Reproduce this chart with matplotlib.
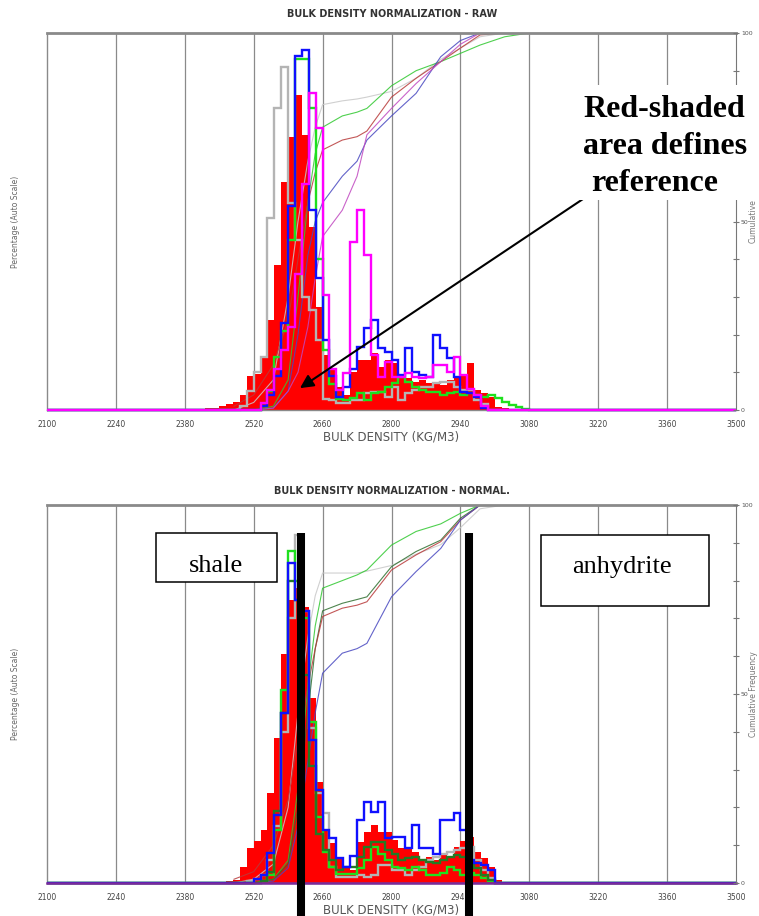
# bulk density normalization - raw vs normalized histograms
import numpy as np
import matplotlib.pyplot as plt
from matplotlib.patches import Rectangle
from matplotlib.transforms import blended_transform_factory

# histogram bins are 14 kg/m3 wide, every list below starts at 2380
BIN_W = 14
FIRST_BIN = 2380
X_MIN, X_MAX = 2100, 3500
x_ticks = np.arange(2100, 3501, 140)

# ---- RAW (top) ----
red_raw = [0, 0, 0, 0.5, 0.5, 1, 1.5, 2, 4, 9,
           9.5, 14, 24, 38.5, 60.6, 72.5, 83.5, 73, 48.6, 27.4,
           14.6, 11, 6, 4, 10, 13.3, 13.3, 15, 11.5, 13.3,
           12.4, 8.8, 8.4, 7.5, 8, 7.1, 7.1, 6.6, 8, 8.8,
           9.3, 12.4, 5.3, 4.4, 3.5, 0.9, 0.5, 0, 0, 0]
grey_raw = [0, 0, 0, 0, 0, 0, 0, 0, 1, 5,
            10, 14, 51, 80, 91, 55, 45, 30, 26.5, 18.6,
            3, 2.7, 1.8, 1.8, 2.7, 2.7, 4.4, 4.9, 4.9, 3.5,
            6.2, 2.7, 4.4, 5.3, 6.2, 6.2, 7.1, 7.5, 7.5, 6.2,
            5.3, 5.3, 2.7, 1.5, 0, 0, 0, 0, 0, 0]
green_raw = [0, 0, 0, 0, 0, 0, 0, 0, 0, 0,
             0, 1, 5, 14, 21, 45, 93, 93, 80, 40,
             16, 7, 3, 2.7, 3.1, 4.4, 2.7, 4.4, 4.9, 6.2,
             7.1, 8.8, 7.5, 6.2, 5.3, 4.9, 4.9, 4, 4.4, 4.9,
             4, 4.4, 4, 3.5, 4, 3.1, 2.2, 1.3, 0.7, 0.3]
blue_raw = [0, 0, 0, 0, 0, 0, 0, 0, 0, 0,
            0, 1, 4, 9, 23, 54, 94, 95.5, 53, 35,
            18.6, 9, 3.5, 6, 11, 16.8, 21.7, 23.9, 16.4, 15.5,
            13.3, 9.3, 16.4, 10.2, 9.3, 8.8, 19.9, 16.4, 13.7, 8.8,
            4.9, 4.4, 3.5, 0.5, 0, 0, 0, 0, 0, 0]
magenta_raw = [0, 0, 0, 0, 0, 0, 0, 0, 0, 0,
               0, 1.8, 5.3, 11, 16, 22, 36, 60, 84, 74.7,
               30.5, 11, 5.3, 9.7, 44.6, 53, 41, 14.6, 8.8, 12.8,
               8.8, 8.8, 9.7, 8.8, 8.4, 8.8, 12, 12, 10.2, 14.1,
               9.3, 5.7, 4, 1, 0, 0, 0, 0, 0, 0]

# ---- NORMAL. (bottom) ----
red_norm = [0, 0, 0.3, 0.3, 0, 0.3, 0.5, 0.8, 4.3, 9.2,
            11, 14, 23.7, 38.3, 60.5, 75, 78, 73, 49, 26.6,
            14, 10.5, 6.5, 3.9, 3.5, 10.9, 13.6, 15.3, 13.6, 13.6,
            11.4, 9.2, 9.2, 8.3, 6.1, 7, 6.1, 7.4, 7, 9.6,
            11, 12.3, 8.3, 6.5, 4.3, 0.8, 0, 0, 0, 0]
grey_norm = [0, 0, 0, 0, 0, 0, 0, 0, 0, 0.5,
             1, 2, 6, 15, 40, 70, 92, 72, 41, 23.7,
             18.4, 4.3, 1.7, 1.7, 1.7, 2.1, 1.7, 2.1, 4.8, 4.8,
             3.4, 3.4, 2.1, 3.4, 4.3, 6.1, 7, 7.8, 8.3, 8.7,
             9.2, 9.6, 6.1, 3.4, 1.2, 0, 0, 0, 0, 0]
green_norm = [0, 0, 0, 0, 0, 0, 0, 0, 0, 0,
              0, 0.5, 2, 14, 51, 87.7, 80, 70, 42.7, 17.5,
              8.3, 4.3, 2.3, 2.3, 2.3, 3.9, 6.1, 9.6, 7.8, 6.1,
              4.3, 3.9, 3.4, 4.3, 3.4, 2.1, 2.1, 2.6, 4.3, 3.4,
              2.1, 2.6, 2.1, 1.2, 0.6, 0, 0, 0, 0, 0]
dkgreen_norm = [0, 0, 0, 0, 0, 0, 0, 0, 0, 0,
                0, 0.5, 3, 19, 45, 80, 75, 55, 31, 13,
                8.7, 6.1, 3.4, 4.3, 4.3, 7, 9.6, 10.9, 10.9, 8.7,
                7.8, 6.1, 6.5, 7, 6.1, 5.6, 5.2, 6.1, 7, 7.4,
                7, 5.2, 3.9, 2.2, 0.9, 0, 0, 0, 0, 0]
blue_norm = [0, 0, 0, 0, 0, 0, 0, 0, 0, 0,
             1, 2, 8, 18, 45, 84.6, 75, 72, 37.8, 24.6,
             14, 12, 6.5, 4.3, 7.2, 16.7, 21.4, 18.9, 21.4, 11.8,
             12.3, 12.3, 9.2, 15.3, 9.2, 9.2, 7.8, 16.7, 16.7, 18.4,
             14, 6, 5.2, 4.8, 3.4, 0, 0, 0, 0, 0]

# cumulative frequency curves (%), read at these densities
cum_x = [2480, 2520, 2560, 2590, 2610, 2630, 2645, 2660, 2700,
         2730, 2750, 2800, 2850, 2900, 2940, 2980, 3030, 3080]
cum_grey_raw = [0, 2, 8, 30, 50, 66, 75, 81, 82, 82.5, 83, 84.5, 88, 93, 96, 99, 100, 100]
cum_green_raw = [0, 0, 1, 8, 30, 55, 68, 75, 78, 79, 80, 86, 90, 92.4, 94.6, 96.8, 99, 100]
cum_red_raw = [1, 4, 12, 24, 40, 55, 63, 69, 71.6, 72.5, 74, 83, 88, 92.4, 96, 99.5, 100, 100]
cum_blue_raw = [0, 0, 0.5, 5, 20, 41, 50, 55, 62, 66, 71.6, 78, 84, 93.7, 98, 100, 100, 100]
cum_magenta_raw = [0, 0, 0.5, 5, 10, 22, 35, 46, 53, 62, 73, 80, 86.6, 92.4, 97, 100, 100, 100]

cum_grey_norm = [0, 1, 5, 20, 45, 65, 76, 82, 82, 82, 82.5, 84, 87, 89.5, 94, 99, 100, 100]
cum_green_norm = [0, 0, 1, 6, 25, 52, 68, 78, 80, 81.5, 82.8, 89.4, 93, 95, 97.8, 100, 100, 100]
cum_dkgreen_norm = [0, 0, 1, 5, 20, 45, 62, 72, 74, 75, 75.7, 83.7, 87.7, 90.7, 96.5, 100, 100, 100]
cum_red_norm = [1, 3, 10, 22, 38, 52, 62, 70.5, 72.7, 73.5, 74.4, 82.8, 86.8, 90.3, 96, 100, 100, 100]
cum_blue_norm = [0, 0, 0.5, 4, 15, 32, 45, 55.5, 60.8, 62, 63.4, 75.7, 82.4, 88.5, 96, 100, 100, 100]

# shale / anhydrite cut-offs drawn on the normalized plot
shale_cut = 2616
anhydrite_cut = 2958

edges = np.arange(X_MIN, X_MAX + 1, BIN_W)


def full_bins(vals):
    out = np.zeros(len(edges) - 1)
    i0 = (FIRST_BIN - X_MIN) // BIN_W
    out[i0:i0 + len(vals)] = vals
    return out


W, H = 759, 916
fig = plt.figure(figsize=(W / 100, H / 100), dpi=100)
GRID = '#8a8a8a'


def panel(top_px, bottom_px, title, title_y, red, steps, cums, right_label):
    ax = fig.add_axes([47 / W, 1 - bottom_px / H, 689 / W, (bottom_px - top_px) / H])
    ax.set_xlim(X_MIN, X_MAX)
    ax.set_ylim(0, 100)
    for x in x_ticks[1:-1]:
        ax.axvline(x, color=GRID, lw=0.9, zorder=0)
    ax.stairs(full_bins(red), edges, fill=True, color='#ff0000', lw=0, zorder=1)
    for vals, col in steps:
        ax.stairs(full_bins(vals), edges, color=col, lw=1.7, zorder=3, clip_on=False)
    for vals, col in cums:
        ax.plot(cum_x, vals, color=col, lw=0.8, alpha=0.85, zorder=2)

    ax.set_yticks([])
    ax.set_xticks(x_ticks)
    ax.tick_params(axis='x', length=0, pad=7, labelsize=5.5, labelcolor='#444444')
    for s in ['left', 'bottom']:
        ax.spines[s].set_color(GRID)
        ax.spines[s].set_linewidth(1)
    ax.spines['top'].set_color(GRID)
    ax.spines['top'].set_linewidth(2)
    ax.spines['right'].set_visible(False)
    ax.set_xlabel('BULK DENSITY (KG/M3)', fontsize=8.5, color='#555555', labelpad=1)
    ax.set_ylabel('Percentage (Auto Scale)', fontsize=5.5, color='#666666')
    ax.yaxis.set_label_coords(-27 / 689, 0.5)
    fig.text(392 / W, 1 - title_y / H, title, ha='center', va='center',
             fontsize=7, fontweight='bold', color='#333333')

    ax2 = ax.twinx()
    ax2.set_ylim(0, 100)
    ax2.set_yticks(range(0, 101, 10))
    ax2.set_yticklabels(['0', '', '', '', '', '50', '', '', '', '', '100'])
    ax2.tick_params(axis='y', direction='inout', length=5, width=0.8, color='#777777',
                    labelsize=4.5, labelcolor='#555555', pad=1)
    for s in ['top', 'left', 'bottom']:
        ax2.spines[s].set_visible(False)
    ax2.spines['right'].set_color('#777777')
    ax2.set_ylabel(right_label, fontsize=5.5, color='#777777')
    ax2.yaxis.set_label_coords(1 + 13 / 689, 0.5)
    return ax, ax2


ax_raw, ax_raw2 = panel(
    33, 410, 'BULK DENSITY NORMALIZATION - RAW', 14, red_raw,
    [(grey_raw, '#b4b4b4'), (green_raw, '#1ee01e'), (blue_raw, '#1010ff'), (magenta_raw, '#ff00ff')],
    [(cum_grey_raw, '#c8c8c8'), (cum_green_raw, '#30c830'), (cum_red_raw, '#b83a3a'),
     (cum_blue_raw, '#4848c0'), (cum_magenta_raw, '#c048c0')],
    'Cumulative')

ax_norm, ax_norm2 = panel(
    505, 883, 'BULK DENSITY NORMALIZATION - NORMAL.', 491, red_norm,
    [(grey_norm, '#b4b4b4'), (green_norm, '#1ee01e'), (dkgreen_norm, '#237a23'), (blue_norm, '#1010ff')],
    [(cum_grey_norm, '#c8c8c8'), (cum_green_norm, '#30c830'), (cum_dkgreen_norm, '#2f6f2f'),
     (cum_red_norm, '#b83a3a'), (cum_blue_norm, '#4848c0')],
    'Cumulative Frequency')
ax_norm.axhline(0, color='#7a2a9a', lw=1.8, zorder=4, clip_on=False)

# annotation on the raw plot
fig.patches.append(Rectangle((575 / W, 1 - 200 / H), 184 / W, 115 / H, transform=fig.transFigure,
                             facecolor='white', edgecolor='none', zorder=5))
for txt, x, y in [('Red-shaded', 583, 117), ('area defines', 583, 154), ('reference', 591, 191)]:
    fig.text(x / W, 1 - y / H, txt, family='Liberation Serif', fontsize=23, fontweight='bold',
             ha='left', va='baseline', zorder=6)
ax_raw.annotate('', xy=(2614, 5.8), xycoords='data', xytext=(586 / W, 1 - 197 / H),
                textcoords='figure fraction',
                arrowprops=dict(arrowstyle='-|>', color='black', lw=1.5, mutation_scale=20,
                                shrinkA=0, shrinkB=0), zorder=7)

# cut-off bars and labels on the normalized plot
tr = blended_transform_factory(ax_norm.transData, fig.transFigure)
for xc in [shale_cut, anhydrite_cut]:
    ax_norm.plot([xc, xc], [0, 1 - 533 / H], transform=tr, color='black', lw=5.8,
                 solid_capstyle='butt', clip_on=False, zorder=8)

for (x0, y0, x1, y1), txt, tx, ty in [((156, 533, 277, 582), 'shale', 216, 572),
                                      ((541, 535, 709, 606), 'anhydrite', 622, 573)]:
    fig.patches.append(Rectangle((x0 / W, 1 - y1 / H), (x1 - x0) / W, (y1 - y0) / H,
                                 transform=fig.transFigure, facecolor='white',
                                 edgecolor='black', lw=1.1, zorder=9))
    fig.text(tx / W, 1 - ty / H, txt, family='Liberation Serif', fontsize=19,
             ha='center', va='baseline', zorder=10)

fig.savefig('out.png', dpi=100)
